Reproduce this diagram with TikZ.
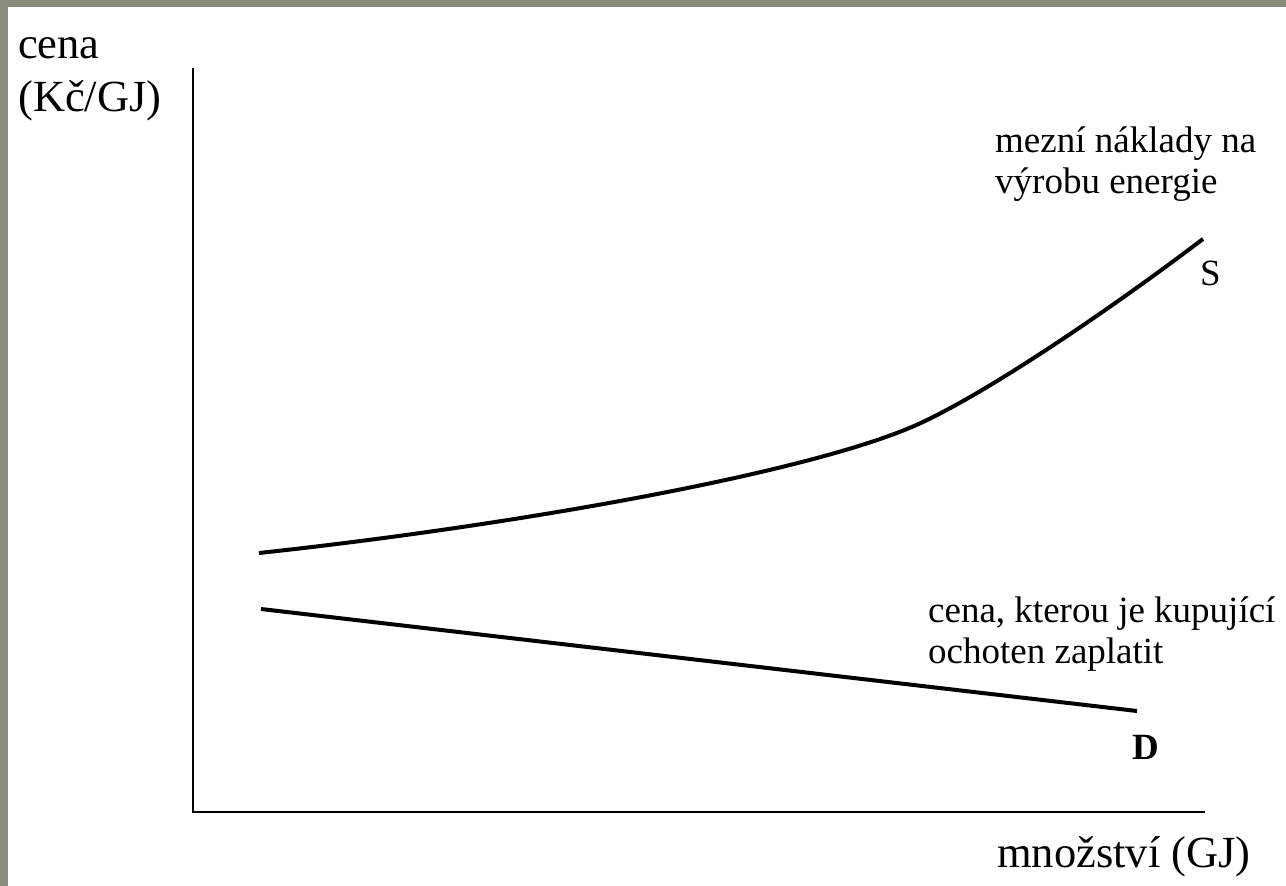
\documentclass[tikz,border=0pt]{standalone}
\usepackage{fontspec}
\setmainfont{Liberation Serif}
\definecolor{frame}{RGB}{138,141,125}
\begin{document}
\begin{tikzpicture}[x=1pt,y=-1pt,
  axislabel/.style={inner sep=0pt,anchor=base west,align=left,font=\fontsize{44.5}{53}\selectfont},
  note/.style={inner sep=0pt,anchor=base west,align=left,font=\fontsize{37}{41}\selectfont},
  axisline/.style={line width=2pt,black},
  curve/.style={line width=4pt,black}]
\useasboundingbox (0,0) rectangle (1286,886);
\fill[frame] (0,0) rectangle (1286,886);
\fill[white] (8,7) rectangle (1286,886);
% axes
\coordinate (ytop) at (193,68);
\coordinate (origin) at (193,812);
\coordinate (xend) at (1205,812);
\draw[axisline] (ytop) -- (origin) -- (xend);
% axis labels (base = baseline of last line)
\node[axislabel] (ylab) at (18,111) {cena\\(Kč/GJ)};
\node[axislabel] (xlab) at (997,867) {množství (GJ)};
% supply curve
\coordinate (s0) at (259,553);
\coordinate (sm) at (925,421);
\coordinate (s1) at (1203,239);
\draw[curve] (s0) .. controls (510,526) and (820,472) .. (sm)
                  .. controls (1000,385) and (1120,302) .. (s1);
% demand line
\coordinate (d0) at (261,609);
\coordinate (d1) at (1137,711);
\draw[curve] (d0) -- (d1);
% labels
\node[note] (slab) at (995,193) {mezní náklady na\\výrobu energie};
\node[note] (S) at (1200,285) {S};
\node[note] (dlab) at (928,663) {cena, kterou je kupující\\ochoten zaplatit};
\node[note,font=\fontsize{37}{41}\selectfont\bfseries] (D) at (1132,759) {D};
\end{tikzpicture}
\end{document}
